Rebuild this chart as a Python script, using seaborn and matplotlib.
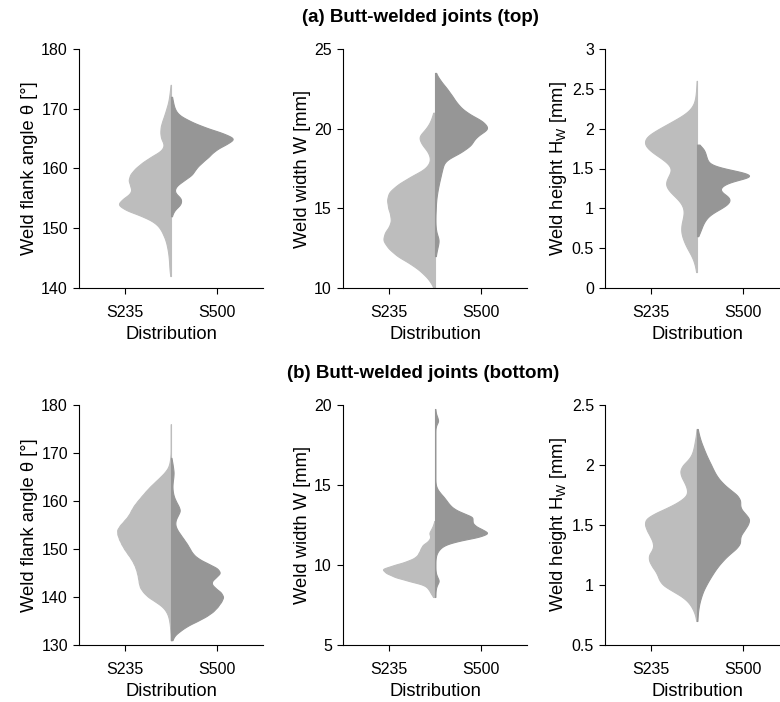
import numpy as np
import pandas as pd
import matplotlib
matplotlib.use("Agg")
import matplotlib.pyplot as plt
import seaborn as sns

STEELS = ["S235", "S500"]

# ---------------- (a) top : weld flank angle theta ----------------
THETA_TOP_VALUES = [174, 173, 172, 171, 170, 169, 168, 167, 166, 165, 164, 163, 162, 161,
                    160, 159, 158, 157, 156, 155, 154, 153, 152, 151, 150, 149, 148, 147,
                    146, 145, 144, 143, 142]
THETA_TOP_S235 = [1, 3, 5, 8, 13, 18, 24, 29, 30, 28, 18, 25, 55, 80,
                  100, 114, 119, 112, 108, 132, 152, 125, 78, 45, 30, 22, 15, 11,
                  8, 6, 5, 4, 2]
THETA_TOP_S500 = [0, 0, 3, 6, 10, 20, 50, 88, 140, 183, 150, 120, 105, 85,
                  68, 60, 35, 12, 8, 30, 28, 8, 2, 0, 0, 0, 0, 0,
                  0, 0, 0, 0, 0]

# ---------------- (a) top : weld width W ----------------
W_TOP_VALUES = [23.5, 23.0, 22.5, 22.0, 21.5, 21.0, 20.5, 20.0, 19.5, 19.0, 18.5, 18.0,
                17.5, 17.0, 16.5, 16.0, 15.5, 15.0, 14.5, 14.0, 13.5, 13.0, 12.5, 12.0,
                11.5, 11.0, 10.5, 10.0]
W_TOP_S235 = [0, 0, 0, 0, 0, 5, 12, 25, 50, 38, 18, 12,
              25, 70, 108, 135, 139, 135, 127, 127, 145, 152, 135, 110,
              68, 38, 16, 3]
W_TOP_S500 = [1, 15, 33, 48, 62, 85, 128, 150, 108, 100, 70, 25,
              20, 15, 10, 6, 3, 2, 1, 1, 3, 12, 6, 2,
              0, 0, 0, 0]

# ---------------- (a) top : weld height H_W ----------------
HW_TOP_S235_VALUES = [2.6, 2.5, 2.4, 2.3, 2.2, 2.1, 2.0, 1.9, 1.8, 1.7, 1.6, 1.5, 1.4,
                      1.3, 1.2, 1.1, 1.0, 0.9, 0.8, 0.7, 0.6, 0.5, 0.4, 0.3, 0.2]
HW_TOP_S235 = [1, 2, 4, 8, 25, 65, 105, 145, 150, 125, 88, 65, 80,
               92, 75, 48, 35, 37, 44, 45, 38, 28, 14, 6, 2]
HW_TOP_S500_VALUES = [1.80, 1.75, 1.70, 1.65, 1.60, 1.55, 1.50, 1.45, 1.40, 1.35, 1.30, 1.25,
                      1.20, 1.15, 1.10, 1.05, 1.00, 0.95, 0.90, 0.85, 0.80, 0.75, 0.70, 0.65]
HW_TOP_S500 = [5, 18, 22, 25, 28, 35, 70, 130, 158, 100, 72, 60,
               65, 85, 90, 82, 65, 45, 30, 22, 16, 12, 8, 3]

# ---------------- (b) bottom : weld flank angle theta ----------------
THETA_BOT_VALUES = [176, 175, 174, 173, 172, 171, 170, 169, 168, 167, 166, 165, 164, 163,
                    162, 161, 160, 159, 158, 157, 156, 155, 154, 153, 152, 151, 150, 149,
                    148, 147, 146, 145, 144, 143, 142, 141, 140, 139, 138, 137, 136, 135,
                    134, 133, 132, 131]
THETA_BOT_S235 = [1, 1, 1, 1, 1, 1, 1, 2, 4, 8, 18, 32, 47, 62,
                  75, 87, 99, 110, 118, 125, 137, 150, 160, 158, 153, 146, 138, 128,
                  118, 110, 104, 100, 97, 95, 92, 82, 68, 45, 25, 14, 8, 5,
                  3, 2, 1, 1]
THETA_BOT_S500 = [0, 0, 0, 0, 0, 0, 0, 1, 4, 6, 8, 7, 5, 4,
                  5, 8, 14, 22, 28, 20, 13, 12, 18, 28, 38, 48, 56, 64,
                  80, 108, 138, 148, 130, 116, 128, 148, 156, 148, 138, 125, 105, 78,
                  48, 28, 10, 4]

# ---------------- (b) bottom : weld width W ----------------
W_BOT_S235_VALUES = [12.75, 12.5, 12.25, 12.0, 11.75, 11.5, 11.25, 11.0, 10.75, 10.5,
                     10.25, 10.0, 9.75, 9.5, 9.25, 9.0, 8.75, 8.5, 8.25, 8.0]
W_BOT_S235 = [2, 5, 10, 17, 12, 18, 35, 40, 45, 52,
              75, 112, 150, 135, 112, 72, 28, 18, 12, 5]
W_BOT_S500_VALUES = [19.75, 19.5, 19.25, 19.0, 18.75, 18.5, 18.25, 18.0, 17.75, 17.5,
                     17.25, 17.0, 16.75, 16.5, 16.25, 16.0, 15.75, 15.5, 15.25, 15.0,
                     14.75, 14.5, 14.25, 14.0, 13.75, 13.5, 13.25, 13.0, 12.75, 12.5,
                     12.25, 12.0, 11.75, 11.5, 11.25, 11.0, 10.75, 10.5, 10.25, 10.0,
                     9.75, 9.5, 9.25, 9.0, 8.75, 8.5, 8.25, 8.0]
W_BOT_S500 = [1, 2, 6, 10, 3, 1, 1, 1, 1, 1,
              1, 1, 1, 1, 1, 1, 1, 1, 1, 2,
              6, 14, 24, 32, 40, 52, 75, 105, 100, 105,
              125, 150, 120, 60, 25, 12, 5, 2, 1, 1,
              1, 2, 6, 12, 5, 2, 1, 1]

# ---------------- (b) bottom : weld height H_W ----------------
HW_BOT_VALUES = [2.30, 2.25, 2.20, 2.15, 2.10, 2.05, 2.00, 1.95, 1.90, 1.85, 1.80,
                 1.75, 1.70, 1.65, 1.60, 1.55, 1.50, 1.45, 1.40, 1.35, 1.30, 1.25,
                 1.20, 1.15, 1.10, 1.05, 1.00, 0.95, 0.90, 0.85, 0.80, 0.75, 0.70]
HW_BOT_S235 = [1, 3, 6, 9, 13, 22, 42, 50, 45, 35, 28,
               27, 48, 80, 120, 150, 150, 143, 133, 125, 125, 140,
               138, 128, 115, 110, 100, 70, 40, 22, 12, 5, 2]
HW_BOT_S500 = [2, 6, 11, 18, 25, 33, 42, 50, 60, 75, 95,
               120, 130, 125, 140, 158, 150, 138, 125, 130, 115, 92,
               75, 60, 48, 37, 27, 18, 12, 7, 4, 2, 1]

# ---------------- axes text ----------------
LABEL_THETA = "Weld flank angle θ [°]"
LABEL_W = "Weld width W [mm]"
LABEL_HW = r"Weld height H$_\mathregular{W}$ [mm]"
TITLE_A = "(a) Butt-welded joints (top)"
TITLE_B = "(b) Butt-welded joints (bottom)"
XLABEL = "Distribution"

TICKS_THETA_TOP = [140, 150, 160, 170, 180]
TICKS_W_TOP = [10, 15, 20, 25]
TICKS_HW_TOP = [0, 0.5, 1, 1.5, 2, 2.5, 3]
TICKS_THETA_BOT = [130, 140, 150, 160, 170, 180]
TICKS_W_BOT = [5, 10, 15, 20]
TICKS_HW_BOT = [0.5, 1, 1.5, 2, 2.5]

# ---------------- style ----------------
sns.set_style("ticks")
plt.rcParams["font.family"] = ["Liberation Sans", "DejaVu Sans"]
plt.rcParams["font.size"] = 11.5
plt.rcParams["mathtext.fontset"] = "custom"
plt.rcParams["mathtext.rm"] = "Liberation Sans"
plt.rcParams["axes.linewidth"] = 0.8
plt.rcParams["axes.edgecolor"] = "black"
plt.rcParams["text.color"] = "black"
plt.rcParams["axes.labelcolor"] = "black"
plt.rcParams["xtick.color"] = "black"
plt.rcParams["ytick.color"] = "black"

PALETTE = {"S235": "#bdbdbd", "S500": "#969696"}
TICK_SIZE = 11.5
LABEL_SIZE = 13.2
TITLE_SIZE = 13.5


def samples(values, counts):
    return np.repeat(np.asarray(values, dtype=float), np.asarray(counts, dtype=int))


def bandwidth(h):
    return lambda kde: h / np.std(kde.dataset, ddof=1)


panels = [
    # series: (steel, values, counts, violin width, kde bandwidth), ylabel, ticks
    ([("S235", THETA_TOP_VALUES, THETA_TOP_S235, 1.13, 0.6),
      ("S500", THETA_TOP_VALUES, THETA_TOP_S500, 1.34, 0.6)], LABEL_THETA, TICKS_THETA_TOP),
    ([("S235", W_TOP_VALUES, W_TOP_S235, 1.12, 0.3),
      ("S500", W_TOP_VALUES, W_TOP_S500, 1.13, 0.3)], LABEL_W, TICKS_W_TOP),
    ([("S235", HW_TOP_S235_VALUES, HW_TOP_S235, 1.13, 0.07),
      ("S500", HW_TOP_S500_VALUES, HW_TOP_S500, 1.13, 0.036)], LABEL_HW, TICKS_HW_TOP),
    ([("S235", THETA_BOT_VALUES, THETA_BOT_S235, 1.17, 0.6),
      ("S500", THETA_BOT_VALUES, THETA_BOT_S500, 1.13, 0.6)], LABEL_THETA, TICKS_THETA_BOT),
    ([("S235", W_BOT_S235_VALUES, W_BOT_S235, 1.13, 0.14),
      ("S500", W_BOT_S500_VALUES, W_BOT_S500, 1.13, 0.15)], LABEL_W, TICKS_W_BOT),
    ([("S235", HW_BOT_VALUES, HW_BOT_S235, 1.13, 0.032),
      ("S500", HW_BOT_VALUES, HW_BOT_S500, 1.13, 0.032)], LABEL_HW, TICKS_HW_BOT),
]

W_PX, H_PX = 780, 702
fig = plt.figure(figsize=(W_PX / 100, H_PX / 100), dpi=100)

lefts = [79, 343, 605]
rows = [(49, 288), (405, 645)]
ax_w = 184

for i, (series, ylabel, ticks) in enumerate(panels):
    r, c = divmod(i, 3)
    top, bot = rows[r]
    ax = fig.add_axes([lefts[c] / W_PX, 1 - bot / H_PX, ax_w / W_PX, (bot - top) / H_PX])
    for steel, vals, cnts, w, h in series:
        df = pd.DataFrame({"value": samples(vals, cnts)})
        df["steel"] = steel
        df["pos"] = XLABEL
        sns.violinplot(data=df, x="pos", y="value", hue="steel", hue_order=STEELS,
                       split=True, dodge=True, inner=None, cut=0, gridsize=400,
                       bw_method=bandwidth(h), density_norm="width", width=w,
                       palette=PALETTE, saturation=1, linewidth=0.8,
                       linecolor=PALETTE[steel], legend=False, ax=ax)
    ax.set_xlim(-1, 1)
    ax.set_xticks([-0.5, 0.5])
    ax.set_xticklabels(STEELS)
    ax.set_ylim(ticks[0], ticks[-1])
    ax.set_yticks(ticks)
    ax.set_yticklabels([f"{t:g}" for t in ticks])
    ax.set_xlabel(XLABEL, labelpad=4, fontsize=LABEL_SIZE)
    ax.set_ylabel(ylabel, labelpad=2, fontsize=LABEL_SIZE)
    sns.despine(ax=ax)
    ax.tick_params(axis="both", direction="out", length=4, width=0.8, colors="black",
                   labelsize=TICK_SIZE)
    ax.tick_params(axis="x", pad=8.5)
    ax.tick_params(axis="y", pad=4)

fig.text(420 / W_PX, 1 - 17 / H_PX, TITLE_A, ha="center", va="center",
         fontweight="bold", fontsize=TITLE_SIZE)
fig.text(423 / W_PX, 1 - 373 / H_PX, TITLE_B, ha="center", va="center",
         fontweight="bold", fontsize=TITLE_SIZE)

fig.savefig("out.png", dpi=100)
